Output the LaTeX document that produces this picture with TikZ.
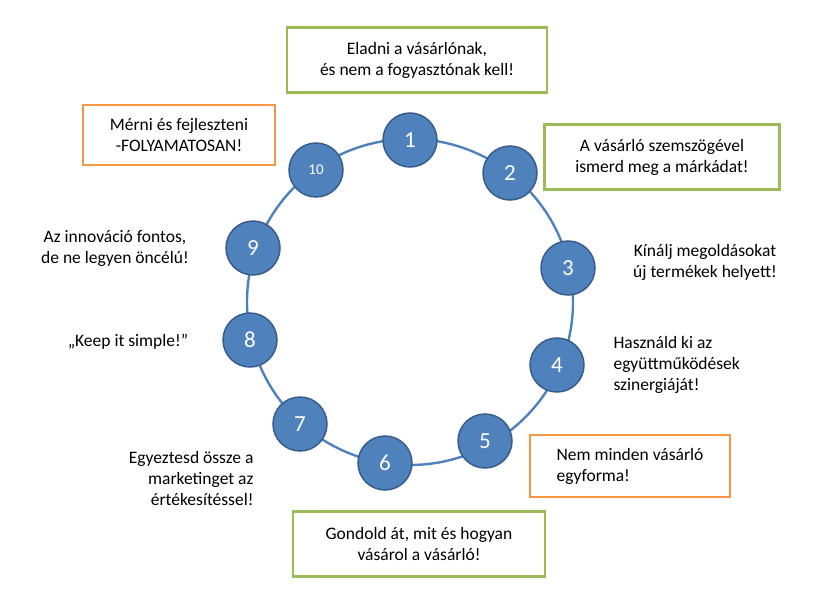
\documentclass[tikz,border=0pt]{standalone}
\usepackage{fontspec}
\setmainfont{Carlito}
\definecolor{ballblue}{HTML}{4F81BD}
\definecolor{ballline}{HTML}{385D8A}
\definecolor{boxgreen}{HTML}{9BBB59}
\definecolor{boxorange}{HTML}{F79646}
\tikzstyle{ball} = [circle, minimum size=54pt, fill=ballblue, draw=ballline, line width=1.5pt, text=white, font=\fontsize{23}{23}\selectfont]
\tikzstyle{note} = [font=\fontsize{17.5}{21}\selectfont, align=center]
\tikzstyle{gbox} = [note, draw=boxgreen, line width=2.2pt, inner sep=10pt]
\tikzstyle{obox} = [note, draw=boxorange, line width=2.2pt, inner sep=10pt]
\begin{document}
\begin{tikzpicture}[x=1pt, y=-1pt]
        \useasboundingbox (0,0) rectangle (836,613);
        \coordinate (mid) at (410,302);
        \draw [ballblue, line width=2.4pt] (mid) circle (163pt);

        \node (b1) [ball] at (410,140) {1};
        \node (b2) [ball] at (510,173) {2};
        \node (b3) [ball] at (568,268) {3};
        \node (b4) [ball] at (557,365) {4};
        \node (b5) [ball] at (485,441) {5};
        \node (b6) [ball] at (385,463) {6};
        \node (b7) [ball] at (300,424) {7};
        \node (b8) [ball] at (250,340) {8};
        \node (b9) [ball] at (253,248) {9};
        \node (b10) [ball, font=\fontsize{15}{15}\selectfont] at (316,170) {10};

        \node (t1) [gbox, minimum width=260pt, minimum height=65pt] at (417,60) {Eladni a vásárlónak,\\ és nem a fogyasztónak kell!};
        \node (t2) [gbox, minimum width=235pt, minimum height=65pt] at (662,157) {A vásárló szemszögével\\ ismerd meg a márkádat!};
        \node (t3) [note] at (705,262) {Kínálj megoldásokat\\ új termékek helyett!};
        \node (t4) [note, align=left, anchor=west] at (610,365) {Használd ki az\\ együttműködések\\ szinergiáját!};
        \node (t5) [obox, align=left, minimum width=200pt, minimum height=62pt] at (630,466) {Nem minden vásárló\\ egyforma!};
        \node (t6) [gbox, minimum width=252pt, minimum height=65pt] at (419,544) {Gondold át, mit és hogyan\\ vásárol a vásárló!};
        \node (t7) [note, align=right, anchor=east] at (257,478) {Egyeztesd össze a\\ marketinget az\\ értékesítéssel!};
        \node (t8) [note] at (128,342) {„Keep it simple!”};
        \node (t9) [note] at (115,248) {Az innováció fontos,\\ de ne legyen öncélú!};
        \node (t10) [obox, minimum width=192pt, minimum height=60pt] at (179,135) {Mérni és fejleszteni\\ -FOLYAMATOSAN!};
    \end{tikzpicture}
\end{document}
